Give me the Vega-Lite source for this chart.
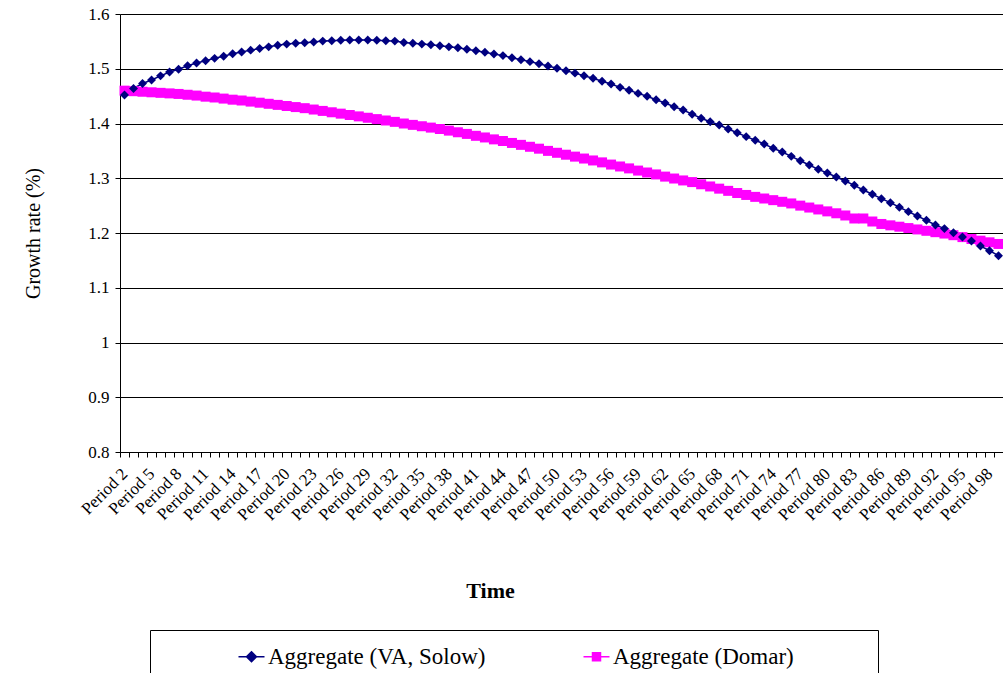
{
  "$schema": "https://vega.github.io/schema/vega-lite/v6.json",
  "width": 883,
  "height": 438,
  "autosize": {"type": "none"},
  "padding": {"left": 120, "top": 14, "right": 0, "bottom": 221},
  "background": "white",
  "config": {"view": {"stroke": null}, "font": "Liberation Serif"},
  "data": {"values": [
    {"p":"Period 2","solow":1.452,"domar":1.460},
    {"p":"Period 3","solow":1.464,"domar":1.459},
    {"p":"Period 4","solow":1.473,"domar":1.458},
    {"p":"Period 5","solow":1.4795,"domar":1.457},
    {"p":"Period 6","solow":1.487,"domar":1.456},
    {"p":"Period 7","solow":1.494,"domar":1.455},
    {"p":"Period 8","solow":1.499,"domar":1.454},
    {"p":"Period 9","solow":1.5056,"domar":1.4525},
    {"p":"Period 10","solow":1.5105,"domar":1.451},
    {"p":"Period 11","solow":1.5147,"domar":1.449},
    {"p":"Period 12","solow":1.519,"domar":1.4475},
    {"p":"Period 13","solow":1.523,"domar":1.4455},
    {"p":"Period 14","solow":1.5275,"domar":1.4435},
    {"p":"Period 15","solow":1.5306,"domar":1.442},
    {"p":"Period 16","solow":1.534,"domar":1.440},
    {"p":"Period 17","solow":1.537,"domar":1.438},
    {"p":"Period 18","solow":1.540,"domar":1.436},
    {"p":"Period 19","solow":1.543,"domar":1.434},
    {"p":"Period 20","solow":1.545,"domar":1.432},
    {"p":"Period 21","solow":1.5465,"domar":1.430},
    {"p":"Period 22","solow":1.5476,"domar":1.428},
    {"p":"Period 23","solow":1.549,"domar":1.4255},
    {"p":"Period 24","solow":1.5505,"domar":1.423},
    {"p":"Period 25","solow":1.5512,"domar":1.4205},
    {"p":"Period 26","solow":1.552,"domar":1.418},
    {"p":"Period 27","solow":1.5525,"domar":1.4155},
    {"p":"Period 28","solow":1.5525,"domar":1.413},
    {"p":"Period 29","solow":1.5525,"domar":1.4105},
    {"p":"Period 30","solow":1.5522,"domar":1.408},
    {"p":"Period 31","solow":1.551,"domar":1.4055},
    {"p":"Period 32","solow":1.5505,"domar":1.403},
    {"p":"Period 33","solow":1.548,"domar":1.400},
    {"p":"Period 34","solow":1.5465,"domar":1.3975},
    {"p":"Period 35","solow":1.545,"domar":1.395},
    {"p":"Period 36","solow":1.544,"domar":1.3925},
    {"p":"Period 37","solow":1.542,"domar":1.390},
    {"p":"Period 38","solow":1.540,"domar":1.387},
    {"p":"Period 39","solow":1.5385,"domar":1.384},
    {"p":"Period 40","solow":1.5355,"domar":1.381},
    {"p":"Period 41","solow":1.533,"domar":1.3775},
    {"p":"Period 42","solow":1.530,"domar":1.3745},
    {"p":"Period 43","solow":1.527,"domar":1.371},
    {"p":"Period 44","solow":1.524,"domar":1.368},
    {"p":"Period 45","solow":1.520,"domar":1.3645},
    {"p":"Period 46","solow":1.5165,"domar":1.361},
    {"p":"Period 47","solow":1.513,"domar":1.3575},
    {"p":"Period 48","solow":1.509,"domar":1.354},
    {"p":"Period 49","solow":1.505,"domar":1.350},
    {"p":"Period 50","solow":1.5008,"domar":1.3465},
    {"p":"Period 51","solow":1.4965,"domar":1.343},
    {"p":"Period 52","solow":1.492,"domar":1.3395},
    {"p":"Period 53","solow":1.4873,"domar":1.336},
    {"p":"Period 54","solow":1.4826,"domar":1.3325},
    {"p":"Period 55","solow":1.4771,"domar":1.329},
    {"p":"Period 56","solow":1.472,"domar":1.325},
    {"p":"Period 57","solow":1.466,"domar":1.3215},
    {"p":"Period 58","solow":1.4606,"domar":1.318},
    {"p":"Period 59","solow":1.455,"domar":1.314},
    {"p":"Period 60","solow":1.4497,"domar":1.3105},
    {"p":"Period 61","solow":1.4435,"domar":1.307},
    {"p":"Period 62","solow":1.4374,"domar":1.303},
    {"p":"Period 63","solow":1.4307,"domar":1.2995},
    {"p":"Period 64","solow":1.4247,"domar":1.296},
    {"p":"Period 65","solow":1.417,"domar":1.293},
    {"p":"Period 66","solow":1.4095,"domar":1.289},
    {"p":"Period 67","solow":1.4033,"domar":1.285},
    {"p":"Period 68","solow":1.3973,"domar":1.281},
    {"p":"Period 69","solow":1.390,"domar":1.277},
    {"p":"Period 70","solow":1.3832,"domar":1.273},
    {"p":"Period 71","solow":1.376,"domar":1.2695},
    {"p":"Period 72","solow":1.3693,"domar":1.266},
    {"p":"Period 73","solow":1.3626,"domar":1.263},
    {"p":"Period 74","solow":1.3547,"domar":1.260},
    {"p":"Period 75","solow":1.348,"domar":1.257},
    {"p":"Period 76","solow":1.340,"domar":1.254},
    {"p":"Period 77","solow":1.332,"domar":1.250},
    {"p":"Period 78","solow":1.3242,"domar":1.2465},
    {"p":"Period 79","solow":1.3163,"domar":1.243},
    {"p":"Period 80","solow":1.3095,"domar":1.2395},
    {"p":"Period 81","solow":1.3023,"domar":1.236},
    {"p":"Period 82","solow":1.295,"domar":1.232},
    {"p":"Period 83","solow":1.2871,"domar":1.2265},
    {"p":"Period 84","solow":1.2786,"domar":1.2265},
    {"p":"Period 85","solow":1.2707,"domar":1.221},
    {"p":"Period 86","solow":1.2627,"domar":1.2165},
    {"p":"Period 87","solow":1.2554,"domar":1.214},
    {"p":"Period 88","solow":1.247,"domar":1.2115},
    {"p":"Period 89","solow":1.239,"domar":1.209},
    {"p":"Period 90","solow":1.231,"domar":1.2065},
    {"p":"Period 91","solow":1.2232,"domar":1.204},
    {"p":"Period 92","solow":1.2146,"domar":1.2015},
    {"p":"Period 93","solow":1.208,"domar":1.199},
    {"p":"Period 94","solow":1.2005,"domar":1.196},
    {"p":"Period 95","solow":1.1927,"domar":1.1925},
    {"p":"Period 96","solow":1.1854,"domar":1.189},
    {"p":"Period 97","solow":1.1763,"domar":1.186},
    {"p":"Period 98","solow":1.1677,"domar":1.183},
    {"p":"Period 99","solow":1.1585,"domar":1.180}
  ]},
  "transform": [{"fold": ["domar", "solow"], "as": ["key", "val"]}],
  "encoding": {
    "x": {
      "field": "p", "type": "nominal", "sort": null,
      "scale": {"type": "band", "paddingInner": 0, "paddingOuter": 0},
      "axis": {
        "title": "Time", "titleFont": "Liberation Serif", "titleFontSize": 22, "titleFontWeight": "bold", "titleColor": "#000",
        "titleX": 370, "titleY": 138, "titleAlign": "center", "titleBaseline": "middle",
        "labelAngle": -45, "labelAlign": "right", "labelBaseline": "middle", "labelPadding": 14,
        "labelFont": "Liberation Serif", "labelFontSize": 17, "labelColor": "#000", "labelOverlap": false,
        "labelExpr": "isString(datum.value) && (toNumber(substring(datum.value, 7)) - 2) % 3 == 0 ? datum.value : ''",
        "tickBand": "extent", "tickSize": 5, "tickColor": "#000", "domainColor": "#000", "grid": false
      }
    },
    "y": {
      "field": "val", "type": "quantitative",
      "scale": {"domain": [0.8, 1.6], "nice": false, "zero": false},
      "axis": {
        "title": "Growth rate (%)", "values": [0.8, 0.9, 1, 1.1, 1.2, 1.3, 1.4, 1.5, 1.6], "format": "~g",
        "grid": true, "gridColor": "#000", "gridWidth": 1, "gridOpacity": 1,
        "domainColor": "#000", "tickColor": "#000", "tickSize": 5, "labelPadding": 6,
        "labelFont": "Liberation Serif", "labelFontSize": 17, "labelColor": "#000",
        "titleFont": "Liberation Serif", "titleFontSize": 20, "titleFontWeight": "normal", "titleColor": "#000",
        "titleX": -87, "titleY": 219, "titleAlign": "center", "titleBaseline": "middle"
      }
    }
  },
  "layer": [
    {
      "mark": {"type": "line", "strokeWidth": 1.5},
      "encoding": {
        "color": {
          "field": "key", "type": "nominal",
          "scale": {"domain": ["solow", "domar"], "range": ["#000080", "#FF00FF"]},
          "legend": {
            "title": null, "orient": "none", "legendX": 30, "legendY": 616, "direction": "horizontal",
            "strokeColor": "#000", "padding": 15, "gridAlign": "each",
            "labelFont": "Liberation Serif", "labelFontSize": 23, "labelColor": "#000", "labelLimit": 0,
            "labelExpr": "datum.label == 'solow' ? 'Aggregate (VA, Solow)' : 'Aggregate (Domar)\u00a0\u00a0\u00a0\u00a0\u00a0\u00a0\u00a0\u00a0\u00a0\u00a0\u00a0\u00a0\u200b'",
            "symbolSize": 100, "symbolStrokeWidth": 1.5, "symbolOffset": 75, "labelOffset": 5, "columnPadding": 24,
            "encode": {"symbols": {"update": {
              "shape": {"signal": "datum.value == 'solow' ? 'M-2.6,0H2.6M0,-1L1,0L0,1L-1,0Z' : 'M-2.6,0H2.6M-0.8,-0.8H0.8V0.8H-0.8Z'"},
              "fill": {"signal": "datum.value == 'solow' ? '#000080' : '#FF00FF'"},
              "stroke": {"signal": "datum.value == 'solow' ? '#000080' : '#FF00FF'"},
              "strokeWidth": {"value": 1.5},
              "opacity": {"value": 1}
            }}}
          }
        }
      }
    },
    {
      "transform": [{"filter": "datum.key == 'domar'"}],
      "mark": {"type": "point", "shape": "square", "filled": true, "size": 100, "color": "#FF00FF", "opacity": 1},
      "encoding": {}
    },
    {
      "transform": [{"filter": "datum.key == 'solow'"}],
      "mark": {"type": "point", "shape": "diamond", "filled": true, "size": 80, "color": "#000080", "opacity": 1},
      "encoding": {}
    }
  ]
}
